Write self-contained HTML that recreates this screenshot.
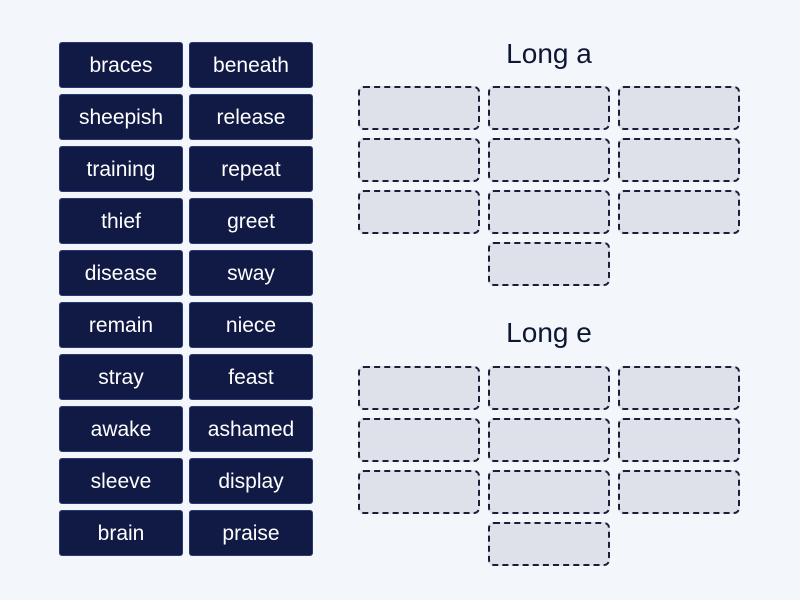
<!DOCTYPE html>
<html><head><style>
body{margin:0;width:800px;height:600px;background:#f3f6fb;position:relative;font-family:"Liberation Sans",sans-serif;overflow:hidden}
.t{position:absolute;width:122px;height:44px;background:#101a45;border:1px solid #2a3a70;border-radius:3px;color:#fff;font-size:21px;display:flex;align-items:center;justify-content:center;box-sizing:content-box;padding-top:1px;height:43px}
.b{position:absolute;width:118px;height:40px;background:#dfe1ea;border:2px dashed #1a1f38;border-radius:6px}
.h{position:absolute;width:200px;left:449px;text-align:center;font-size:28px;color:#0d1633}
</style></head><body>
<div class="h" style="top:38px">Long a</div>
<div class="h" style="top:317px">Long e</div>
<div id="c"></div>
<script>
var w=[["braces","beneath"],["sheepish","release"],["training","repeat"],["thief","greet"],["disease","sway"],["remain","niece"],["stray","feast"],["awake","ashamed"],["sleeve","display"],["brain","praise"]];
var h="";
w.forEach(function(r,i){var y=42+i*52;h+='<div class="t" style="left:59px;top:'+y+'px">'+r[0]+'</div><div class="t" style="left:189px;top:'+y+'px">'+r[1]+'</div>';});
[86,366].forEach(function(y0){for(var r=0;r<3;r++)for(var c=0;c<3;c++)h+='<div class="b" style="left:'+(358+c*130)+'px;top:'+(y0+r*52)+'px"></div>';h+='<div class="b" style="left:488px;top:'+(y0+156)+'px"></div>';});
document.getElementById("c").innerHTML=h;
</script>
</body></html>
